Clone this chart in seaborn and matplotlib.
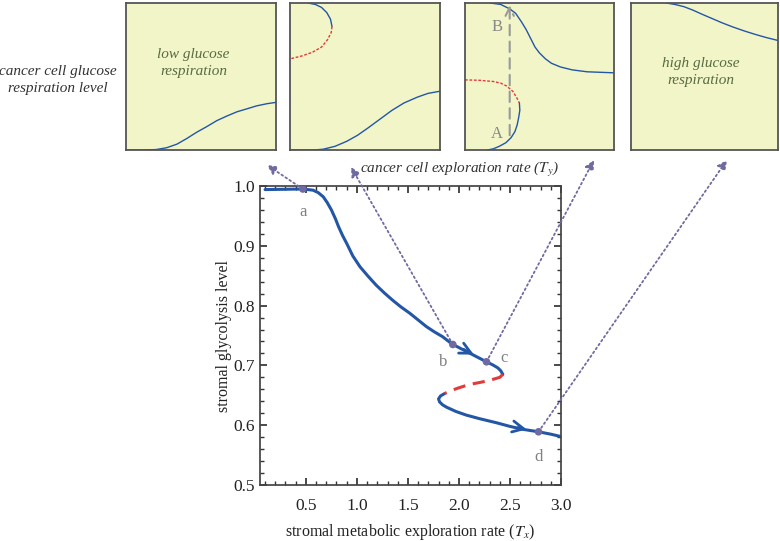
import numpy as np
import pandas as pd
import matplotlib
matplotlib.use('Agg')
import matplotlib.pyplot as plt
import seaborn as sns

# main bifurcation curve
upper_x = [0.10, 0.47, 0.57, 0.62, 0.67, 0.71, 0.75, 0.79, 0.82, 0.86, 0.90, 0.96, 1.03, 1.11,
           1.19, 1.27, 1.35, 1.43, 1.52, 1.60, 1.68, 1.76, 1.84, 1.93, 2.02, 2.10, 2.19, 2.27,
           2.33, 2.38, 2.41, 2.43]
upper_y = [0.994, 0.995, 0.993, 0.989, 0.982, 0.972, 0.960, 0.945, 0.932, 0.917, 0.904, 0.883,
           0.865, 0.849, 0.834, 0.821, 0.809, 0.798, 0.787, 0.776, 0.765, 0.756, 0.748, 0.736,
           0.728, 0.721, 0.713, 0.706, 0.701, 0.696, 0.691, 0.685]
unstable_x = [2.43, 2.40, 2.32, 2.22, 2.10, 1.99, 1.91, 1.86]
unstable_y = [0.685, 0.680, 0.676, 0.672, 0.668, 0.662, 0.657, 0.653]
lower_x = [1.86, 1.82, 1.80, 1.81, 1.84, 1.88, 1.97, 2.07, 2.20, 2.37, 2.50, 2.63, 2.78, 2.90, 3.00]
lower_y = [0.653, 0.649, 0.644, 0.639, 0.634, 0.630, 0.623, 0.617, 0.611, 0.604, 0.598, 0.593,
           0.589, 0.585, 0.581]

pt_labels = ['a', 'b', 'c', 'd']
pt_x = [0.47, 1.94, 2.27, 2.78]
pt_y = [0.995, 0.735, 0.706, 0.589]

# inset curves (normalised panel coordinates)
p1_x = [0.0, 0.12, 0.20, 0.27, 0.34, 0.405, 0.47, 0.54, 0.606, 0.67, 0.74, 0.806, 0.87, 0.94, 1.0]
p1_y = [0.0, 0.0, 0.003, 0.015, 0.04, 0.078, 0.12, 0.16, 0.20, 0.23, 0.26, 0.28, 0.30, 0.315, 0.324]
p2_top_x = [0.12, 0.17, 0.21, 0.245, 0.27, 0.28]
p2_top_y = [1.0, 0.99, 0.97, 0.935, 0.89, 0.84]
p2_red_x = [0.28, 0.275, 0.25, 0.21, 0.15, 0.08, 0.0]
p2_red_y = [0.84, 0.80, 0.75, 0.70, 0.665, 0.64, 0.62]
p2_low_x = [0.0, 0.15, 0.22, 0.30, 0.38, 0.45, 0.52, 0.60, 0.68, 0.76, 0.85, 0.92, 1.0]
p2_low_y = [0.0, 0.0, 0.005, 0.025, 0.06, 0.10, 0.15, 0.21, 0.27, 0.32, 0.36, 0.385, 0.40]
p3_top_x = [0.17, 0.24, 0.30, 0.34, 0.38, 0.41, 0.44, 0.47, 0.50, 0.54, 0.58, 0.64, 0.72, 0.82, 1.0]
p3_top_y = [1.0, 0.99, 0.96, 0.93, 0.87, 0.82, 0.76, 0.70, 0.66, 0.62, 0.59, 0.565, 0.545, 0.532, 0.525]
p3_red_x = [0.0, 0.10, 0.19, 0.24, 0.28, 0.32, 0.345, 0.36, 0.365]
p3_red_y = [0.477, 0.474, 0.466, 0.455, 0.435, 0.40, 0.36, 0.33, 0.32]
p3_low_x = [0.365, 0.368, 0.36, 0.35, 0.335, 0.31, 0.275, 0.23, 0.19, 0.15]
p3_low_y = [0.32, 0.27, 0.22, 0.17, 0.125, 0.085, 0.05, 0.025, 0.008, 0.0]
p4_x = [0.24, 0.30, 0.36, 0.42, 0.48, 0.55, 0.62, 0.69, 0.77, 0.85, 0.92, 1.0]
p4_y = [1.0, 0.99, 0.975, 0.952, 0.925, 0.895, 0.865, 0.838, 0.81, 0.785, 0.765, 0.745]

blue = '#2456a6'
red = '#e23b3b'
purple = '#6f6aa0'
green_txt = '#5a6a42'
panel_bg = '#f1f5c8'

sns.set_theme(style='ticks')
plt.rcParams['font.family'] = ['Liberation Serif', 'DejaVu Serif']
plt.rcParams['mathtext.fontset'] = 'stix'

fig = plt.figure(figsize=(7.8, 5.41), dpi=100)
ax = fig.add_axes([0.3333, 0.1035, 0.3859, 0.5527])

sns.lineplot(x=upper_x, y=upper_y, sort=False, estimator=None, color=blue, lw=2.2, ax=ax)
sns.lineplot(x=lower_x, y=lower_y, sort=False, estimator=None, color=blue, lw=2.2, ax=ax)
ax.plot(unstable_x, unstable_y, color=red, lw=2.2, ls=(0, (4, 2.5)))

# direction arrows on the stable branches
ax.annotate('', xy=(2.17, 0.716), xytext=(2.02, 0.729),
            arrowprops=dict(arrowstyle='->', color=blue, lw=2, mutation_scale=20))
ax.annotate('', xy=(2.69, 0.592), xytext=(2.55, 0.597),
            arrowprops=dict(arrowstyle='->', color=blue, lw=2, mutation_scale=20))

sns.scatterplot(x=pt_x, y=pt_y, color=purple, s=30, zorder=5, edgecolor='none', ax=ax)
offsets = [(0.0, -0.038), (-0.09, -0.030), (0.17, 0.006), (0.0, -0.043)]
for lab, x, y, (dx, dy) in zip(pt_labels, pt_x, pt_y, offsets):
    ax.text(x + dx, y + dy, lab, color='#808080', fontsize=12, ha='center', va='center')

# dotted arrows to the panels (figure pixel targets)
targets = [(267, 165), (351, 167), (594, 160), (727, 160)]
for (x, y), (tx, ty) in zip(zip(pt_x, pt_y), targets):
    ax.annotate('', xy=(tx / 780, 1 - ty / 541), xycoords='figure fraction',
                xytext=(x, y), textcoords='data', annotation_clip=False,
                arrowprops=dict(arrowstyle='-|>', color=purple, lw=1.3, ls=':',
                                mutation_scale=14, shrinkA=0, shrinkB=0))

ax.set_xlim(0.05, 3.0)
ax.set_ylim(0.5, 1.0)
ax.set_xticks([0.5, 1.0, 1.5, 2.0, 2.5, 3.0])
ax.set_yticks([0.5, 0.6, 0.7, 0.8, 0.9, 1.0])
ax.set_xticks(np.arange(0.1, 3.0, 0.1), minor=True)
ax.set_yticks(np.arange(0.5, 1.0, 0.02), minor=True)
ax.tick_params(which='both', direction='in', top=True, right=True, colors='#333333',
               labelsize=12.5, labelcolor='#222222')
ax.tick_params(which='major', length=5)
ax.tick_params(which='minor', length=3)
ax.tick_params(axis='x', pad=9)
for sp in ax.spines.values():
    sp.set_color('#444444')
ax.set_xlabel('stromal metabolic exploration rate ($T_x$)', fontsize=11.5, color='#222222', labelpad=6)
ax.set_ylabel('stromal glycolysis level', fontsize=11.5, color='#222222', labelpad=1)

# panels
panel_pos = [(126, 276), (290, 440), (465, 614), (631, 778)]
panels = []
for x0, x1 in panel_pos:
    pax = fig.add_axes([x0 / 780, 1 - 150 / 541, (x1 - x0) / 780, 147 / 541])
    pax.set_facecolor(panel_bg)
    pax.set_xlim(0, 1)
    pax.set_ylim(0, 1)
    pax.set_xticks([])
    pax.set_yticks([])
    for sp in pax.spines.values():
        sp.set_color('#555555')
        sp.set_linewidth(1.3)
    panels.append(pax)

thin = dict(color=blue, lw=1.0)
panels[0].plot(p1_x, p1_y, **thin)
panels[0].text(0.45, 0.59, 'low glucose\nrespiration', style='italic', color=green_txt,
               fontsize=11, ha='center', va='center', linespacing=1.4)

panels[1].plot(p2_top_x, p2_top_y, **thin)
panels[1].plot(p2_red_x, p2_red_y, color=red, lw=1.0, ls=(0, (2, 1.2)))
panels[1].plot(p2_low_x, p2_low_y, **thin)

panels[2].plot(p3_top_x, p3_top_y, **thin)
panels[2].plot(p3_red_x, p3_red_y, color=red, lw=1.0, ls=(0, (2, 1.2)))
panels[2].plot(p3_low_x, p3_low_y, **thin)
panels[2].annotate('', xy=(0.30, 0.985), xytext=(0.30, 0.10),
                   arrowprops=dict(arrowstyle='->', color='#999999', lw=1.5, ls=(0, (5, 3)),
                                   mutation_scale=15, shrinkA=0, shrinkB=0))
panels[2].text(0.215, 0.84, 'B', color='#888888', fontsize=12, ha='center', va='center')
panels[2].text(0.215, 0.11, 'A', color='#888888', fontsize=12, ha='center', va='center')

panels[3].plot(p4_x, p4_y, **thin)
panels[3].text(0.475, 0.53, 'high glucose\nrespiration', style='italic', color=green_txt,
               fontsize=11, ha='center', va='center', linespacing=1.4)

fig.text(58 / 780, 1 - 80 / 541, 'cancer cell glucose\nrespiration level', style='italic',
         fontsize=11, color='#333333', ha='center', va='center', linespacing=1.4)
fig.text(460 / 780, 1 - 170 / 541, 'cancer cell exploration rate ($T_y$)', style='italic',
         fontsize=11, color='#333333', ha='center', va='center')

fig.savefig('out.png', dpi=100)
